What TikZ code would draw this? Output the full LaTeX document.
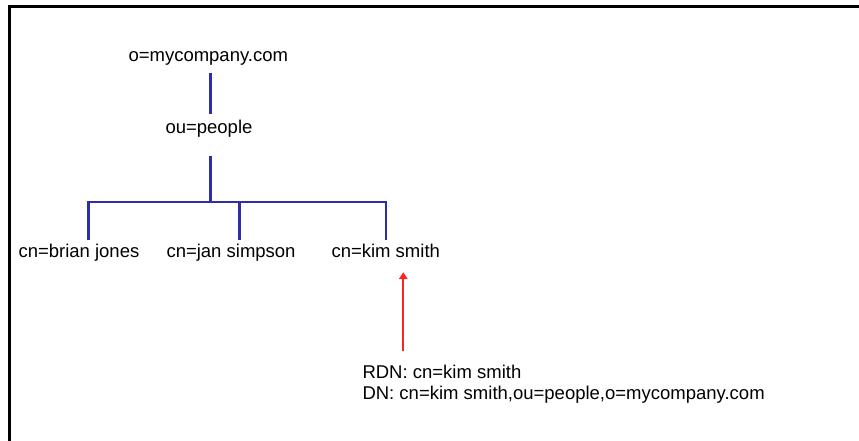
\documentclass[tikz,border=0pt]{standalone}
\usepackage{fontspec}
\setmainfont{Liberation Sans}
\usetikzlibrary{arrows.meta}
\definecolor{treeblue}{RGB}{46,46,172}
\definecolor{ptrred}{RGB}{255,36,36}
\tikzset{
  entry/.style={anchor=base west, inner sep=0pt, outer sep=0pt,
                font=\fontsize{18.5pt}{21pt}\selectfont},
  tree/.style={draw=treeblue, line width=2.2pt},
  pointer/.style={draw=ptrred, line width=2pt,
                  -{Triangle[width=8.5pt,length=7pt]}},
  frame/.style={draw=black, line width=3pt}
}
\begin{document}
\begin{tikzpicture}[x=1pt,y=-1pt]
  \useasboundingbox (0,0) rectangle (859,441);
  \fill[white] (0,0) rectangle (859,441);

  % open frame: left and top edges
  \draw[frame] (9.5,441) -- (9.5,6.5) -- (859,6.5);

  % directory entries
  \node[entry] (org)   at (128.5,61.5)  {o=mycompany.com};
  \node[entry] (ou)    at (165.5,133.3) {ou=people};
  \node[entry] (brian) at (18.5,257.7)  {cn=brian jones};
  \node[entry] (jan)   at (166.5,257.7) {cn=jan simpson};
  \node[entry] (kim)   at (331.5,257.7) {cn=kim smith};

  % names of the selected entry
  \node[entry] (rdn) at (362.5,378.3) {RDN: cn=kim smith};
  \node[entry] (dn)  at (362.5,399)   {DN: cn=kim smith,ou=people,o=mycompany.com};

  % tree connectors, all hanging from one vertical axis
  \coordinate (hub)  at (210.5,202);
  \coordinate (tail) at (403.3,351);
  \draw[tree] ([yshift=-7.5pt]org.south -| hub) -- ([yshift=6pt]ou.north -| hub);
  \draw[tree] ([yshift=-19pt]ou.south -| hub) -- (hub);
  \draw[tree] ([xshift=9.5pt,yshift=4.3pt]brian.north) |- (hub) -| ([yshift=4.3pt]kim.north);
  \draw[tree] ([xshift=8.5pt]jan.north |- hub) -- ([xshift=8.5pt,yshift=4.3pt]jan.north);

  % pointer from the names up to the entry
  \draw[pointer] (tail) -- ([yshift=-14.3pt]tail |- kim.south);
\end{tikzpicture}
\end{document}
